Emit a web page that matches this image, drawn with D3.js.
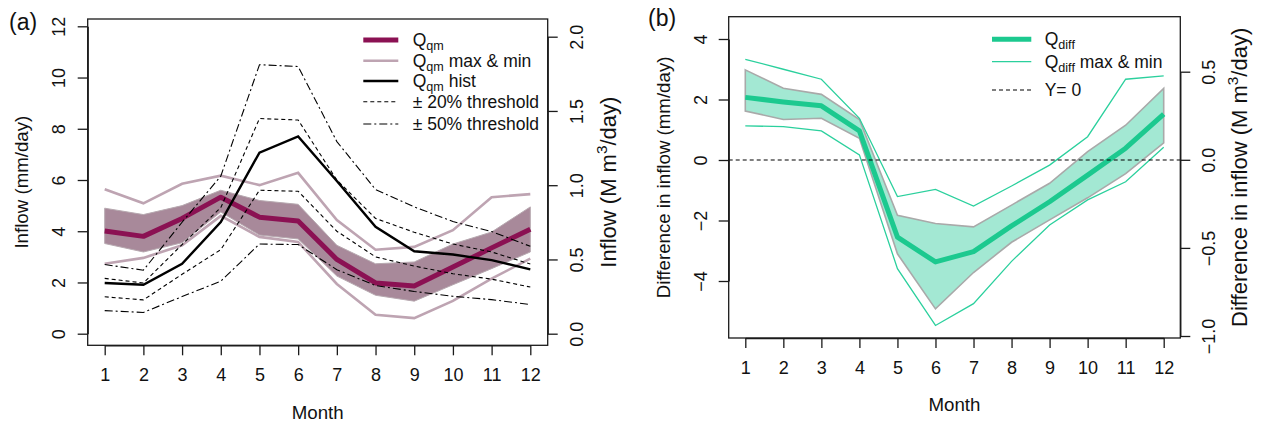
<!DOCTYPE html>
<html><head><meta charset="utf-8">
<script src="https://cdn.jsdelivr.net/npm/d3@7"></script>
<style>
html,body{margin:0;padding:0;background:#fff;}
svg{display:block;font-family:"Liberation Sans",Arial,Helvetica,sans-serif;}
</style></head><body>
<svg id="c" width="1264" height="425"></svg>
<script>
// ---------- data ----------
const months = [1,2,3,4,5,6,7,8,9,10,11,12];

// panel (a): inflow, mm/day
const qqm      = [4.01,3.80,4.50,5.33,4.55,4.40,2.90,1.98,1.86,2.60,3.35,4.08];
const qqmHi    = [4.90,4.65,5.00,5.60,5.20,5.05,3.45,2.73,2.80,3.50,3.97,4.95];
const qqmLo    = [3.52,3.19,3.55,4.75,3.85,3.70,2.25,1.50,1.27,1.91,2.54,3.19];
const qqmMax   = [5.64,5.09,5.85,6.17,5.80,6.28,4.44,3.28,3.39,4.04,5.33,5.45];
const qqmMin   = [2.73,2.96,3.45,4.60,3.78,3.58,1.94,0.74,0.61,1.28,2.15,2.93];
const qqmHist  = [1.98,1.91,2.73,4.36,7.07,7.70,5.96,4.17,3.22,3.09,2.87,2.51];
const up20     = [2.16,1.98,3.48,4.92,8.40,8.34,6.00,4.50,3.96,3.50,3.19,2.72];
const lo20     = [1.44,1.32,2.32,3.28,5.60,5.56,4.00,3.00,2.64,2.34,2.13,1.82];
const up50     = [2.70,2.48,4.35,6.15,10.50,10.43,7.50,5.63,4.95,4.38,3.99,3.41];
const lo50     = [0.90,0.83,1.45,2.05,3.50,3.48,2.50,1.88,1.65,1.46,1.33,1.14];
const ticksAL  = [0,2,4,6,8,10,12];
const ticksAR  = [0,0.5,1.0,1.5,2.0];

// panel (b): difference in inflow, mm/day
const qdiff    = [2.07,1.92,1.79,0.96,-2.55,-3.37,-3.03,-2.18,-1.38,-0.50,0.39,1.52];
const qdiffHi  = [2.98,2.37,2.17,1.34,-1.83,-2.10,-2.21,-1.49,-0.77,0.28,1.15,2.37];
const qdiffLo  = [1.62,1.34,1.38,0.72,-3.10,-4.92,-3.72,-2.72,-1.98,-1.25,-0.45,0.57];
const qdiffMax = [3.33,3.00,2.67,1.38,-1.21,-0.97,-1.52,-0.86,-0.17,0.77,2.67,2.78];
const qdiffMin = [1.13,1.10,0.96,0.17,-3.59,-5.47,-4.75,-3.35,-2.15,-1.32,-0.72,0.42];
const ticksBL  = [-4,-2,0,2,4];
const ticksBR  = [-1.0,-0.5,0.0,0.5];

// ---------- style ----------
const C = {
  qqm:"#8b1153", band:"#a8899a", maxmin:"#bea4b2", hist:"#000",
  green:"#1cc98f", gband:"#a3e8d3", gborder:"#a9a9a9", gthin:"#2bd09d",
  axis:"#1a1a1a"
};
const FS = {tick:18, title:18.7, rtitle:22, leg:17.5, panel:23};

const svg = d3.select("#c");

// ---------- helpers ----------
function box(b){
  svg.append("rect").attr("x",b.l).attr("y",b.t).attr("width",b.r-b.l).attr("height",b.b-b.t)
    .attr("fill","none").attr("stroke",C.axis).attr("stroke-width",1.3);
}
function styleAxis(g){
  g.attr("font-family",null).attr("font-size",FS.tick);
  g.selectAll("path.domain").attr("stroke",C.axis).attr("stroke-width",1.3);
  g.selectAll(".tick line").attr("stroke",C.axis).attr("stroke-width",1.3);
  g.selectAll(".tick text").attr("fill","#111");
}
function vertAxis(gen, xpos, off){
  const g = svg.append("g").attr("transform",`translate(${xpos},0)`).call(gen);
  styleAxis(g);
  g.selectAll(".tick text").attr("transform","rotate(-90)").attr("x",0).attr("y",off)
    .attr("dy",0).attr("text-anchor","middle");
  return g;
}
function bottomAxis(gen, ypos, off){
  const g = svg.append("g").attr("transform",`translate(0,${ypos})`).call(gen);
  styleAxis(g);
  g.selectAll(".tick text").attr("y",off).attr("dy",0);
  return g;
}
function vtitle(x, y, parts, fs){
  const t = svg.append("text").attr("transform",`translate(${x},${y}) rotate(-90)`)
    .attr("text-anchor","middle").attr("font-size",fs).attr("fill","#111");
  parts.forEach(p=>{
    const s = t.append("tspan").text(p.t);
    if(p.sup){ s.attr("font-size",fs*0.7).attr("dy",-fs*0.4); }
    if(p.after){ s.attr("dy",fs*0.4); }
  });
}
function legendEntry(x1,x2,tx,y,style,parts){
  svg.append("line").attr("x1",x1).attr("x2",x2).attr("y1",y).attr("y2",y)
    .attr("stroke",style.c).attr("stroke-width",style.w)
    .attr("stroke-dasharray",style.d||null);
  const t = svg.append("text").attr("x",tx).attr("y",y+6).attr("font-size",FS.leg).attr("fill","#111");
  parts.forEach(p=>{
    const s = t.append("tspan").text(p.t);
    if(p.sub){ s.attr("font-size",FS.leg*0.72).attr("dy",4); }
    if(p.after){ s.attr("dy",-4); }
  });
}

// =============== PANEL A ===============
const A = {l:87.7, r:547.7, t:19, b:345.3};
const xa  = d3.scaleLinear().domain([1,12]).range([104.7,530.3]);
const yaL = d3.scaleLinear().domain([0,12]).range([333.7,26.3]);
const yaR = d3.scaleLinear().domain([0,2]).range([333.7,36.7]);

const lineA = arr => d3.line().x((d,i)=>xa(months[i])).y(d=>yaL(d))(arr);
const areaA = d3.area().x((d,i)=>xa(months[i])).y0((d,i)=>yaL(qqmLo[i])).y1((d,i)=>yaL(qqmHi[i]));

svg.append("path").attr("d",areaA(months)).attr("fill",C.band).attr("stroke","#b7a9b0").attr("stroke-width",1);
[qqmMax,qqmMin].forEach(a=>svg.append("path").attr("d",lineA(a)).attr("fill","none")
  .attr("stroke",C.maxmin).attr("stroke-width",2.6));
svg.append("path").attr("d",lineA(qqm)).attr("fill","none").attr("stroke",C.qqm).attr("stroke-width",5)
  .attr("stroke-linejoin","round");
[up20,lo20].forEach(a=>svg.append("path").attr("d",lineA(a)).attr("fill","none")
  .attr("stroke","#000").attr("stroke-width",1.1).attr("stroke-dasharray","4,3"));
[up50,lo50].forEach(a=>svg.append("path").attr("d",lineA(a)).attr("fill","none")
  .attr("stroke","#000").attr("stroke-width",1.1).attr("stroke-dasharray","8,3,2,3"));
svg.append("path").attr("d",lineA(qqmHist)).attr("fill","none").attr("stroke",C.hist).attr("stroke-width",2.4);

box(A);
vertAxis(d3.axisLeft(yaL).tickValues(ticksAL).tickSize(10).tickSizeOuter(0), A.l, -22.7);
vertAxis(d3.axisRight(yaR).tickValues(ticksAR).tickFormat(d3.format(".1f")).tickSize(10).tickSizeOuter(0), A.r, 35.6);
bottomAxis(d3.axisBottom(xa).tickValues(months).tickSize(10).tickSizeOuter(0), A.b, 36);

vtitle(28.3, (A.t+A.b)/2, [{t:"Inflow (mm/day)"}], FS.title);
vtitle(616, (A.t+A.b)/2, [{t:"Inflow (M m"},{t:"3",sup:true},{t:"/day)",after:true}], FS.rtitle);
svg.append("text").attr("x",(A.l+A.r)/2).attr("y",418.7).attr("text-anchor","middle")
  .attr("font-size",FS.title).attr("fill","#111").text("Month");
svg.append("text").attr("x",9).attr("y",30).attr("font-size",FS.panel).attr("fill","#111").text("(a)");

// legend a
const LA = {x1:363.3, x2:398.3, tx:412.7};
legendEntry(LA.x1,LA.x2,LA.tx,40,{c:C.qqm,w:5},[{t:"Q"},{t:"qm",sub:true}]);
legendEntry(LA.x1,LA.x2,LA.tx,60.7,{c:C.maxmin,w:2.6},[{t:"Q"},{t:"qm",sub:true},{t:" max & min",after:true}]);
legendEntry(LA.x1,LA.x2,LA.tx,81,{c:"#000",w:2.4},[{t:"Q"},{t:"qm",sub:true},{t:" hist",after:true}]);
legendEntry(LA.x1,LA.x2,LA.tx,101.7,{c:"#000",w:1.1,d:"4,3"},[{t:"± 20% threshold"}]);
legendEntry(LA.x1,LA.x2,LA.tx,124,{c:"#000",w:1.1,d:"8,3,2,3"},[{t:"± 50% threshold"}]);

// =============== PANEL B ===============
const B = {l:728.7, r:1180.3, t:16.7, b:338};
const xb  = d3.scaleLinear().domain([1,12]).range([745.3,1163.7]);
const ybL = d3.scaleLinear().domain([-4,4]).range([281,39]);
const ybR = d3.scaleLinear().domain([-1,0.5]).range([336,71.7]);

const lineB = arr => d3.line().x((d,i)=>xb(months[i])).y(d=>ybL(d))(arr);
const areaB = d3.area().x((d,i)=>xb(months[i])).y0((d,i)=>ybL(qdiffLo[i])).y1((d,i)=>ybL(qdiffHi[i]));

svg.append("path").attr("d",areaB(months)).attr("fill",C.gband).attr("stroke",C.gborder).attr("stroke-width",1.6);
svg.append("path").attr("d",lineB(qdiff)).attr("fill","none").attr("stroke",C.green).attr("stroke-width",5)
  .attr("stroke-linejoin","round");
[qdiffMax,qdiffMin].forEach(a=>svg.append("path").attr("d",lineB(a)).attr("fill","none")
  .attr("stroke",C.gthin).attr("stroke-width",1.3));
svg.append("line").attr("x1",B.l).attr("x2",B.r).attr("y1",ybL(0)).attr("y2",ybL(0))
  .attr("stroke","#000").attr("stroke-width",1.1).attr("stroke-dasharray","4,3");

box(B);
vertAxis(d3.axisLeft(ybL).tickValues(ticksBL).tickSize(10).tickSizeOuter(0), B.l, -21.7);
vertAxis(d3.axisRight(ybR).tickValues(ticksBR).tickFormat(d3.format(".1f")).tickSize(10).tickSizeOuter(0), B.r, 35);
bottomAxis(d3.axisBottom(xb).tickValues(months).tickSize(10).tickSizeOuter(0), B.b, 35.7);

vtitle(670.3, (B.t+B.b)/2, [{t:"Difference in inflow (mm/day)"}], FS.title);
vtitle(1247, (B.t+B.b)/2, [{t:"Difference in inflow (M m"},{t:"3",sup:true},{t:"/day)",after:true}], FS.rtitle);
svg.append("text").attr("x",(B.l+B.r)/2).attr("y",411.3).attr("text-anchor","middle")
  .attr("font-size",FS.title).attr("fill","#111").text("Month");
svg.append("text").attr("x",648).attr("y",26).attr("font-size",FS.panel).attr("fill","#111").text("(b)");

// legend b
const LB = {x1:992, x2:1031.3, tx:1044.7};
legendEntry(LB.x1,LB.x2,LB.tx,39.3,{c:C.green,w:5},[{t:"Q"},{t:"diff",sub:true}]);
legendEntry(LB.x1,LB.x2,LB.tx,61.7,{c:C.gthin,w:1.3},[{t:"Q"},{t:"diff",sub:true},{t:" max & min",after:true}]);
legendEntry(LB.x1,LB.x2,LB.tx,90,{c:"#000",w:1.1,d:"4,3"},[{t:"Y= 0"}]);
</script>
</body></html>
